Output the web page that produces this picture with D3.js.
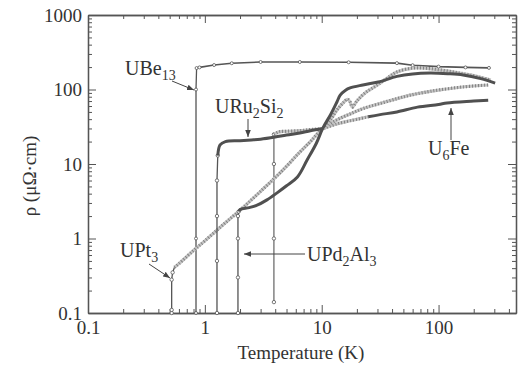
<!DOCTYPE html>
<html>
<head>
<meta charset="utf-8">
<script src="https://cdn.jsdelivr.net/npm/d3@7"></script>
<style>
  body { margin: 0; background: #fff; }
  text { font-family: "Liberation Serif", "DejaVu Serif", serif; fill: #333; }
</style>
</head>
<body>
<div id="chart"></div>
<script>
// resistivity vs temperature, heavy fermion superconductors (log-log)

// UBe13
var ube13T   = [0.84, 0.84, 0.84, 0.85, 0.9, 1.2, 1.7, 3, 6.5, 17, 44, 60, 100, 170, 270];
var ube13Rho = [0.1, 1, 100, 194, 198, 213, 225, 234, 234, 232, 226, 212, 203, 198, 195];

// URu2Si2
var uru2si2T   = [1.27, 1.27, 1.27, 1.27, 1.29, 1.35, 1.5, 2, 2.5, 3, 4, 5, 6.5, 8, 10.2,
                  12, 13.5, 15.5, 16.6, 17.5, 18.3, 20, 23.5, 30, 37, 44, 60, 80, 103, 140, 186, 280];
var uru2si2Rho = [0.1, 0.5, 2, 6, 13, 18, 20, 20.5, 21, 21.5, 23, 24.5, 26, 28, 30,
                  40, 53, 68, 74, 68, 58, 70, 90, 115, 145, 172, 194, 192, 183, 170, 157, 134];

// UPt3
var upt3T   = [0.52, 0.52, 0.52, 0.53, 0.55, 0.6, 0.8, 1, 1.4, 2, 3, 4.4, 6.5, 8, 10.2,
               13, 17.5, 23, 31.6, 45, 57, 80, 103, 160, 266];
var upt3Rho = [0.1, 0.11, 0.28, 0.35, 0.41, 0.46, 0.69, 0.93, 1.48, 2.4, 4.3, 7.6, 14.4, 20, 30,
               38, 47, 56, 65, 76, 84, 93, 99, 108, 115];

// UPd2Al3
var upd2al3T   = [1.92, 1.92, 1.92, 1.92, 1.95, 2, 2.4, 2.8, 3.4, 4.15, 5, 6.2, 7.5, 9, 10.2,
                  12, 13.5, 14.4, 16, 17.5, 22.5, 30.5, 44, 60, 85, 120, 162, 230, 305];
var upd2al3Rho = [0.1, 0.3, 1, 2, 2.3, 2.45, 2.6, 2.8, 3.3, 4.1, 5.1, 6.7, 11.3, 19, 30,
                  47, 68, 84, 98, 105, 115, 126, 150, 162, 166, 163, 157, 140, 122];

// U6Fe
var u6feT   = [3.9, 3.9, 3.9, 3.9, 4.3, 5, 6.5, 8, 10.2, 13, 17.5, 25, 31.6, 44, 66, 100, 118, 200, 266];
var u6feRho = [0.14, 1, 10, 25, 27, 27.5, 28, 29, 30, 34, 38, 43, 46, 50, 58, 63, 66, 70, 72];

// axis ticks
var xMajor = [0.1, 1, 10, 100];
var xMinor = [0.2, 0.3, 0.4, 0.5, 0.6, 0.7, 0.8, 0.9, 2, 3, 4, 5, 6, 7, 8, 9,
              20, 30, 40, 50, 60, 70, 80, 90, 200, 300, 400];
var yMajor = [0.1, 1, 10, 100, 1000];
var yMinor = [0.2, 0.3, 0.4, 0.5, 0.6, 0.7, 0.8, 0.9, 2, 3, 4, 5, 6, 7, 8, 9,
              20, 30, 40, 50, 60, 70, 80, 90, 200, 300, 400, 500, 600, 700, 800, 900];

var svgWidth = 518;
var svgHeight = 370;

var margin = { top: 15, right: 2, bottom: 57, left: 88 };
var width = svgWidth - margin.left - margin.right;
var height = svgHeight - margin.top - margin.bottom;

var svg = d3.select("#chart")
    .append("svg")
    .attr("width", svgWidth)
    .attr("height", svgHeight);

var defs = svg.append("defs");
defs.append("marker")
    .attr("id", "arrow")
    .attr("viewBox", "0 0 10 10")
    .attr("refX", 10).attr("refY", 5)
    .attr("markerWidth", 7).attr("markerHeight", 7)
    .attr("markerUnits", "userSpaceOnUse")
    .attr("orient", "auto")
    .append("path")
    .attr("d", "M0,1 L10,5 L0,9 Z")
    .attr("fill", "#444");

var chartGroup = svg.append("g")
    .attr("transform", `translate(${margin.left},${margin.top})`);

var xScale = d3.scaleLog().domain([0.1, 460]).range([0, width]);
var yScale = d3.scaleLog().domain([0.1, 1000]).range([height, 0]);

var fmt = d => String(d);

// bottom axis (ticks inward)
chartGroup.append("g")
    .attr("class", "axis")
    .attr("transform", `translate(0,${height})`)
    .call(d3.axisBottom(xScale).tickValues(xMajor).tickFormat(fmt).tickSizeInner(-8).tickSizeOuter(0).tickPadding(8));
chartGroup.append("g")
    .attr("class", "axis minor")
    .attr("transform", `translate(0,${height})`)
    .call(d3.axisBottom(xScale).tickValues(xMinor).tickFormat("").tickSizeInner(-4).tickSizeOuter(0));

// top axis
chartGroup.append("g")
    .attr("class", "axis")
    .call(d3.axisTop(xScale).tickValues(xMajor).tickFormat("").tickSizeInner(-8).tickSizeOuter(0));
chartGroup.append("g")
    .attr("class", "axis minor")
    .call(d3.axisTop(xScale).tickValues(xMinor).tickFormat("").tickSizeInner(-4).tickSizeOuter(0));

// left axis
chartGroup.append("g")
    .attr("class", "axis")
    .call(d3.axisLeft(yScale).tickValues(yMajor).tickFormat(fmt).tickSizeInner(-8).tickSizeOuter(0).tickPadding(6));
chartGroup.append("g")
    .attr("class", "axis minor")
    .call(d3.axisLeft(yScale).tickValues(yMinor).tickFormat("").tickSizeInner(-4).tickSizeOuter(0));

// right axis
chartGroup.append("g")
    .attr("class", "axis")
    .attr("transform", `translate(${width},0)`)
    .call(d3.axisRight(yScale).tickValues(yMajor).tickFormat("").tickSizeInner(-8).tickSizeOuter(0));
chartGroup.append("g")
    .attr("class", "axis minor")
    .attr("transform", `translate(${width},0)`)
    .call(d3.axisRight(yScale).tickValues(yMinor).tickFormat("").tickSizeInner(-4).tickSizeOuter(0));

chartGroup.selectAll(".axis path").attr("stroke", "#555").attr("stroke-width", 1.3);
chartGroup.selectAll(".axis line").attr("stroke", "#555").attr("stroke-width", 1);
chartGroup.selectAll(".axis text")
    .style("font-family", '"Liberation Serif", serif')
    .style("font-size", "19px")
    .attr("fill", "#333");

// curves
function toPoints(ts, rs) {
    return ts.map((t, i) => ({ t: t, r: rs[i] }));
}

var smooth = d3.line()
    .x(d => xScale(d.t))
    .y(d => yScale(d.r))
    .curve(d3.curveCatmullRom.alpha(0.5));

var straight = d3.line()
    .x(d => xScale(d.t))
    .y(d => yScale(d.r));

function drawDark(pts) {
    chartGroup.append("path")
        .datum(pts)
        .attr("d", smooth)
        .attr("fill", "none")
        .attr("stroke", "#505050")
        .attr("stroke-width", 3);
}

// light curves in the scan are chains of tiny open circles
function drawHatched(pts) {
    var g = chartGroup.append("g");
    g.append("path")
        .datum(pts)
        .attr("d", smooth)
        .attr("fill", "none")
        .attr("stroke", "#c4c4c4")
        .attr("stroke-width", 3.2);
    g.append("path")
        .datum(pts)
        .attr("d", smooth)
        .attr("fill", "none")
        .attr("stroke", "#7d7d7d")
        .attr("stroke-width", 3.2)
        .attr("stroke-dasharray", "0.9 2.1");
}

function drawThin(pts, w) {
    chartGroup.append("path")
        .datum(pts)
        .attr("d", straight)
        .attr("fill", "none")
        .attr("stroke", "#555")
        .attr("stroke-width", w);
}

function drawMarkers(pts, r) {
    chartGroup.append("g").selectAll("circle")
        .data(pts)
        .enter()
        .append("circle")
        .attr("cx", d => xScale(d.t))
        .attr("cy", d => yScale(d.r))
        .attr("r", r || 1.7)
        .attr("fill", "#fff")
        .attr("stroke", "#555")
        .attr("stroke-width", 0.8);
}

var ube13 = toPoints(ube13T, ube13Rho);
var uru2si2 = toPoints(uru2si2T, uru2si2Rho);
var upt3 = toPoints(upt3T, upt3Rho);
var upd2al3 = toPoints(upd2al3T, upd2al3Rho);
var u6fe = toPoints(u6feT, u6feRho);

// UBe13: thin line with open circles
drawThin(ube13.slice(0, 4), 1.3);
drawThin(ube13.slice(3), 1.6);
drawMarkers(ube13, 1.5);

// U6Fe
drawThin(u6fe.slice(0, 4), 1.1);
drawMarkers(u6fe.slice(0, 4));
drawHatched(u6fe.slice(3, 12));
drawDark(u6fe.slice(11));

// UPt3
drawThin(upt3.slice(0, 5), 1.3);
drawMarkers(upt3.slice(0, 4));
drawHatched(upt3.slice(4));

// URu2Si2
drawThin(uru2si2.slice(0, 5), 1.3);
drawMarkers(uru2si2.slice(0, 5));
drawDark(uru2si2.slice(4, 15));
drawHatched(uru2si2.slice(14));

// UPd2Al3
drawThin(upd2al3.slice(0, 5), 1.3);
drawMarkers(upd2al3.slice(0, 5));
drawDark(upd2al3.slice(4));

// labels with subscripts
function label(x, y, parts) {
    var t = svg.append("text")
        .attr("x", x).attr("y", y)
        .style("font-size", "20px");
    parts.forEach(function (p) {
        if (p.sub) {
            t.append("tspan").attr("dy", 5).style("font-size", "14px").text(p.s);
        } else {
            t.append("tspan").attr("dy", p.back ? -5 : 0).text(p.s);
        }
    });
}

function arrow(x1, y1, x2, y2) {
    svg.append("line")
        .attr("x1", x1).attr("y1", y1)
        .attr("x2", x2).attr("y2", y2)
        .attr("stroke", "#444")
        .attr("stroke-width", 1)
        .attr("marker-end", "url(#arrow)");
}

label(125, 75, [{ s: "UBe" }, { s: "13", sub: true }]);
arrow(172, 81, 194, 90);

label(215, 113, [{ s: "URu" }, { s: "2", sub: true }, { s: "Si", back: true }, { s: "2", sub: true }]);
arrow(248, 119, 248, 137);

label(120, 257, [{ s: "UPt" }, { s: "3", sub: true }]);
arrow(149, 264, 170, 278);

label(307, 261, [{ s: "UPd" }, { s: "2", sub: true }, { s: "Al", back: true }, { s: "3", sub: true }]);
arrow(305, 254, 244, 254);

label(428, 155, [{ s: "U" }, { s: "6", sub: true }, { s: "Fe", back: true }]);
arrow(451, 140, 451, 108);

// axis titles
svg.append("text")
    .attr("transform", `translate(36, ${margin.top + height / 2 + 12}) rotate(-90)`)
    .style("text-anchor", "middle")
    .style("font-size", "19px")
    .text("ρ (μΩ·cm)");

svg.append("text")
    .attr("x", 301)
    .attr("y", 359)
    .style("text-anchor", "middle")
    .style("font-size", "19px")
    .text("Temperature (K)");
</script>
</body>
</html>
